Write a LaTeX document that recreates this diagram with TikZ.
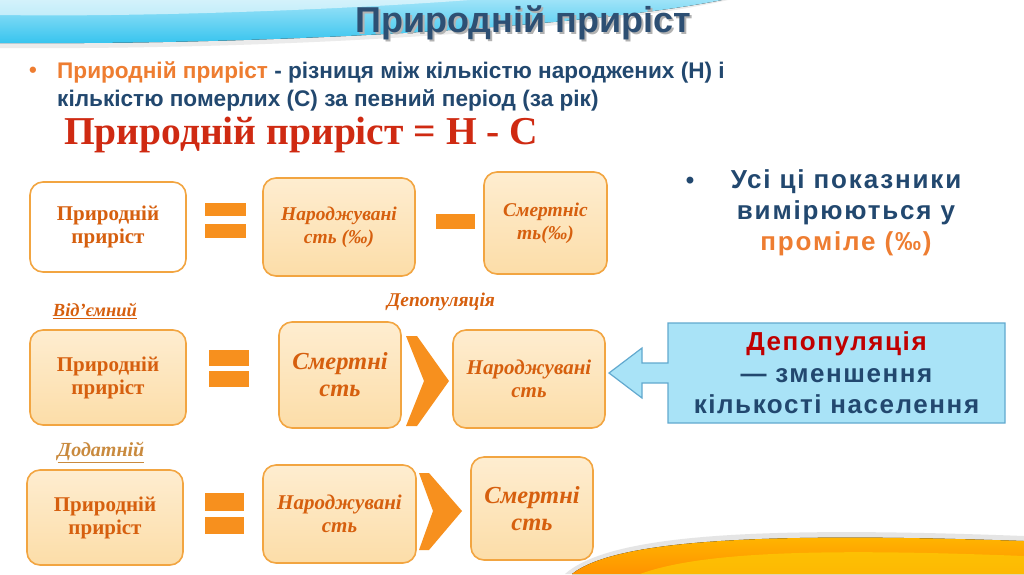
\documentclass[tikz,border=0pt]{standalone}
\usepackage{fontspec}
\setmainfont{Liberation Serif}
\newfontfamily\sansf{Liberation Sans}
\newfontfamily\sanssp[LetterSpace=7]{Liberation Sans}
\newfontfamily\sanswide[LetterSpace=6]{Liberation Sans}
\definecolor{titleblue}{HTML}{2D4F73}
\definecolor{textblue}{HTML}{22486F}
\definecolor{bulorange}{HTML}{EE7D31}
\definecolor{formred}{HTML}{CF2A12}
\definecolor{boxtext}{HTML}{D65F0E}
\definecolor{boxborder}{HTML}{F2A541}
\definecolor{boxfillA}{HTML}{FEEDD0}
\definecolor{boxfillB}{HTML}{FCDDA8}
\definecolor{eqorange}{HTML}{F7901E}
\definecolor{callfill}{HTML}{A9E3F7}
\definecolor{callborder}{HTML}{62A9CF}
\definecolor{callred}{HTML}{C00000}
\definecolor{dodtext}{HTML}{C98A3E}
\definecolor{swcyan}{HTML}{33C3EE}
\definecolor{swlight}{HTML}{9EE3F8}
\tikzset{
  box/.style={draw=boxborder, line width=1.6pt, rounded corners=13pt,
    top color=boxfillA, bottom color=boxfillB, align=center, text=boxtext,
    inner sep=2pt},
  whitebox/.style={box, top color=white, bottom color=white},
  boxlabel/.style={font=\fontsize{21}{23}\selectfont\bfseries},
  itlabel/.style={font=\fontsize{21}{23}\selectfont\bfseries\itshape},
  smallit/.style={font=\fontsize{19.5}{23}\selectfont\bfseries\itshape},
  bigit/.style={font=\fontsize{24.5}{27}\selectfont\bfseries\itshape},
  calltxt/.style={align=center, inner sep=0, font=\sanswide\fontsize{26}{31.5}\selectfont\bfseries, text=textblue}
}
\begin{document}
\begin{tikzpicture}[x=1pt,y=-1pt]
\useasboundingbox (0,0) rectangle (1024,574);
\fill[white] (0,0) rectangle (1024,574);
% top swoosh
\fill[black!8] (0,0) -- (728,0) .. controls (600,29) and (300,50) .. (0,48) -- cycle;
\fill[top color=swlight, bottom color=swcyan] (0,0) -- (722,0) .. controls (596,25) and (300,45) .. (0,43) -- cycle;
\fill[white, opacity=0.55] (0,0) -- (470,0) .. controls (320,11) and (130,17) .. (0,15) -- cycle;
% bottom swoosh
\fill[black!10] (565,574) .. controls (610,534) and (760,526) .. (1024,536) -- (1024,574) -- cycle;
\fill[top color=orange!55!yellow, bottom color=orange!85!yellow] (572,574) .. controls (615,540) and (760,532) .. (1024,541) -- (1024,574) -- cycle;
\fill[yellow!70!orange, opacity=0.6] (640,574) .. controls (700,552) and (820,548) .. (1024,556) -- (1024,574) -- cycle;
% title
\node[font=\sansf\fontsize{36}{40}\selectfont\bfseries, text=black!30] (titleS) at (525,25) {Природній приріст};
\node[font=\sansf\fontsize{36}{40}\selectfont\bfseries, text=titleblue] (title) at (523,23) {Природній приріст};
% bullet definition
\node[font=\sansf\fontsize{22}{24}\selectfont\bfseries, text=bulorange] (b1) at (33,72) {•};
\node[anchor=west, inner sep=0, font=\sansf\fontsize{22.6}{24}\selectfont\bfseries, text=textblue] (l1) at (57,72) {\textcolor{bulorange}{Природній приріст} - різниця між кількістю народжених (Н) і};
\node[anchor=west, inner sep=0, font=\sansf\fontsize{22.6}{24}\selectfont\bfseries, text=textblue] (l2) at (57,100) {кількістю померлих (С) за певний період (за рік)};
% formula
\node[anchor=west, inner sep=0, font=\fontsize{39.5}{42}\selectfont\bfseries, text=formred] (formula) at (64,135) {Природній приріст = Н - С};
% row 1
\node[whitebox, boxlabel, minimum width=156pt, minimum height=90pt] (A) at (108,227) {Природній\\приріст};
\fill[eqorange] (205,203) rectangle (246,216);
\fill[eqorange] (205,224) rectangle (246,238);
\node[box, smallit, minimum width=152pt, minimum height=98pt] (B) at (339,227) {Народжувані\\сть (‰)};
\fill[eqorange] (436,214) rectangle (475,229);
\node[box, smallit, minimum width=123pt, minimum height=102pt] (C) at (545.5,223) {Смертніс\\ть(‰)};
% right bullet
\node[font=\sansf\fontsize{24}{24}\selectfont\bfseries, text=textblue] (b2) at (690,183) {•};
\node[align=center, font=\sanssp\fontsize{26}{31}\selectfont\bfseries, text=textblue] (note) at (846,213) {Усі ці показники\\вимірюються у\\\textcolor{bulorange}{проміле (‰)}};
% row 2
\node[font=\fontsize{18.5}{20}\selectfont\bfseries\itshape, text=boxtext] (neg) at (95,311) {\underline{Від\symbol{39}ємний}};
\node[font=\fontsize{19.5}{21}\selectfont\bfseries\itshape, text=boxtext] (depl) at (441,302) {Депопуляція};
\node[box, boxlabel, minimum width=156pt, minimum height=95pt] (D) at (108,377.5) {Природній\\приріст};
\fill[eqorange] (209,350) rectangle (249,366);
\fill[eqorange] (209,371) rectangle (249,387);
\node[box, bigit, minimum width=122pt, minimum height=106pt] (E) at (340,375) {Смертні\\сть};
\fill[eqorange] (406,336) -- (417,336) -- (449,381) -- (417,426) -- (406,426) -- (424,381) -- cycle;
\node[box, itlabel, minimum width=152pt, minimum height=98pt] (F) at (529,379) {Народжувані\\сть};
% callout
\coordinate (callNW) at (668,323);
\coordinate (callSE) at (1005,423);
\coordinate (callC) at (836.5,373);
\coordinate (tip) at (609,373);
\path[fill=callfill, draw=callborder, line width=1.2pt]
  (callNW) -- (callNW -| callSE) -- (callSE) -- (callSE -| callNW)
  -- (668,383) -- (642,383) -- (642,398) -- (tip) -- (642,348) -- (642,363) -- (668,363) -- cycle;
\node[calltxt] (calltext) at (callC) {\textcolor{callred}{Депопуляція}\\— зменшення\\кількості населення};
% row 3
\node[font=\fontsize{20}{22}\selectfont\bfseries\itshape, text=dodtext] (pos) at (101,452) {\underline{Додатній}};
\node[box, boxlabel, minimum width=156pt, minimum height=95pt] (G) at (105,517.5) {Природній\\приріст};
\fill[eqorange] (205,493) rectangle (244,511);
\fill[eqorange] (205,517) rectangle (244,534);
\node[box, itlabel, minimum width=153pt, minimum height=98pt] (H) at (339.5,514) {Народжувані\\сть};
\fill[eqorange] (419,473) -- (429,473) -- (462,511) -- (429,550) -- (419,550) -- (433,511) -- cycle;
\node[box, bigit, minimum width=122pt, minimum height=103pt] (I) at (532,508.5) {Смертні\\сть};
\end{tikzpicture}
\end{document}
